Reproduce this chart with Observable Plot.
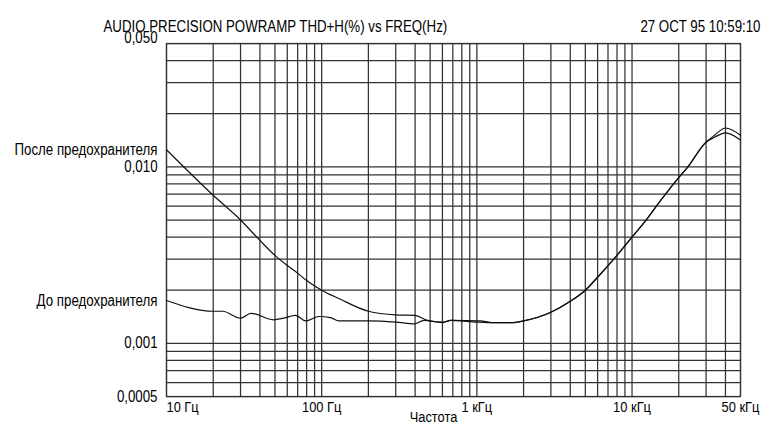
<!DOCTYPE html>
<html>
<head>
<meta charset="utf-8">
<script src="https://cdn.jsdelivr.net/npm/d3@7"></script>
<script src="https://cdn.jsdelivr.net/npm/@observablehq/plot@0.6"></script>
<style>
  html, body { margin: 0; padding: 0; background: #fff; }
  svg text { font-family: "Liberation Sans", Arial, sans-serif; }
</style>
</head>
<body>
<div id="chart"></div>
<script>
const title = "AUDIO PRECISION POWRAMP THD+H(%) vs FREQ(Hz)";
const stamp = "27 OCT 95 10:59:10";
const xLabel = "Частота";

const seriesNames = ["После предохранителя", "До предохранителя"];

const freqAfter = [10, 20, 30, 40, 50, 60, 70, 80, 100, 130, 200, 300, 400, 480, 600, 680, 1000, 1300, 1700, 2000, 3000, 4000, 5000, 6000, 8000, 10000, 12500, 15000, 20000, 22500, 30000, 34000, 40000, 50000];
const thdAfter = [0.0125, 0.0069, 0.0050, 0.00383, 0.00315, 0.00276, 0.0025, 0.00227, 0.0020, 0.00179, 0.00152, 0.00145, 0.00144, 0.00135, 0.00132, 0.00135, 0.00132, 0.00131, 0.00131, 0.00134, 0.0015, 0.00173, 0.0020, 0.00237, 0.00315, 0.0040, 0.00508, 0.00631, 0.0087, 0.0098, 0.0138, 0.0151, 0.0166, 0.0151];

const freqBefore = [10, 20, 23, 30, 35, 49, 57, 68, 79, 96, 114, 129, 200, 300, 400, 455, 600, 680, 1050, 1300, 1700, 2000, 3000, 4000, 5000, 6000, 8000, 10000, 12500, 15000, 20000, 22500, 30000, 34000, 40000, 50000];
const thdBefore = [0.00175, 0.00152, 0.00152, 0.00139, 0.00148, 0.00136, 0.00139, 0.00144, 0.00134, 0.00142, 0.0014, 0.00134, 0.00134, 0.00132, 0.00129, 0.00135, 0.00131, 0.00135, 0.00134, 0.00131, 0.00131, 0.00134, 0.0015, 0.00173, 0.0020, 0.00237, 0.00315, 0.0040, 0.00508, 0.00631, 0.0087, 0.0098, 0.0138, 0.0147, 0.0156, 0.0142];

const xGrid = [10,20,30,40,50,60,70,80,90,100,200,300,400,500,600,700,800,900,1000,2000,3000,4000,5000,6000,7000,8000,9000,10000,20000,30000,40000,50000];
const yGrid = [0.0005,0.0006,0.0007,0.0008,0.0009,0.001,0.002,0.003,0.004,0.005,0.006,0.007,0.008,0.009,0.01,0.02,0.03,0.04,0.05];

const xTickValues = [10, 100, 1000, 10000, 50000];
const xTickLabels = ["10 Гц", "100 Гц", "1 кГц", "10 кГц", "50 кГц"];
const yTickValues = [0.01, 0.001, 0.0005];
const yTickLabels = ["0,010", "0,001", "0,0005"];
const yTopValue = [0.05];
const yTopLabel = ["0,050"];

const after = freqAfter.map((f, i) => ({f, v: thdAfter[i], s: seriesNames[0]}));
const before = freqBefore.map((f, i) => ({f, v: thdBefore[i], s: seriesNames[1]}));
const starts = [after[0], before[0]];
const xTicks = xTickValues.map((v, i) => ({v, label: xTickLabels[i]}));

const font = "\"Liberation Sans\", Arial, sans-serif";

const chart = Plot.plot({
  width: 764,
  height: 427,
  marginLeft: 166,
  marginRight: 24,
  marginTop: 43,
  marginBottom: 31,
  style: {fontFamily: font, fontSize: "15px", color: "#000", background: "#fff"},
  x: {type: "log", domain: [10, 50000], axis: null},
  y: {type: "log", domain: [0.0005, 0.05], axis: null},
  marks: [
    Plot.ruleX(xGrid, {x: d => d, stroke: "#333", strokeWidth: 1.25}),
    Plot.ruleY(yGrid, {y: d => d, stroke: "#333", strokeWidth: 1.25}),
    Plot.frame({stroke: "#333", strokeWidth: 1.25}),
    Plot.line(after, {x: "f", y: "v", curve: "monotone-x", stroke: "#111", strokeWidth: 1.2}),
    Plot.line(before, {x: "f", y: "v", curve: "monotone-x", stroke: "#111", strokeWidth: 1.2}),
    Plot.text(yTickValues, {y: d => d, text: (d, i) => yTickLabels[i], frameAnchor: "left", textAnchor: "end", dx: -9, fontSize: 16, fill: "#000"}),
    Plot.text(yTopValue, {y: d => d, text: (d, i) => yTopLabel[i], frameAnchor: "left", textAnchor: "end", dx: -9, dy: -6, fontSize: 16, fill: "#000"}),
    Plot.text(starts, {y: "v", text: "s", frameAnchor: "left", textAnchor: "end", dx: -9, fontSize: 16, fill: "#000"}),
    Plot.text(xTicks.slice(0, 1), {x: "v", text: "label", frameAnchor: "bottom", dy: 15, textAnchor: "start", fontSize: 15.5, fill: "#000"}),
    Plot.text(xTicks.slice(1), {x: "v", text: "label", frameAnchor: "bottom", dy: 15, textAnchor: "middle", fontSize: 15.5, fill: "#000"}),
    Plot.text([xLabel], {text: d => d, frameAnchor: "bottom", dx: -20, dy: 25, fontSize: 15.5, fill: "#000"}),
    Plot.text([title], {text: d => d, frameAnchor: "top-left", textAnchor: "start", dx: -63, dy: -23, fontSize: 16, fill: "#000"}),
    Plot.text([stamp], {text: d => d, frameAnchor: "top-right", textAnchor: "end", dx: 20, dy: -23, fontSize: 16, fill: "#000"})
  ]
});
document.getElementById("chart").appendChild(chart);
// Condense glyphs horizontally to mimic the narrow Helvetica of the original plot
d3.select(chart).selectAll("text").each(function() {
  const w = this.getComputedTextLength();
  if (w > 0) {
    this.setAttribute("textLength", (w * 0.83).toFixed(1));
    this.setAttribute("lengthAdjust", "spacingAndGlyphs");
  }
});
</script>
</body>
</html>
